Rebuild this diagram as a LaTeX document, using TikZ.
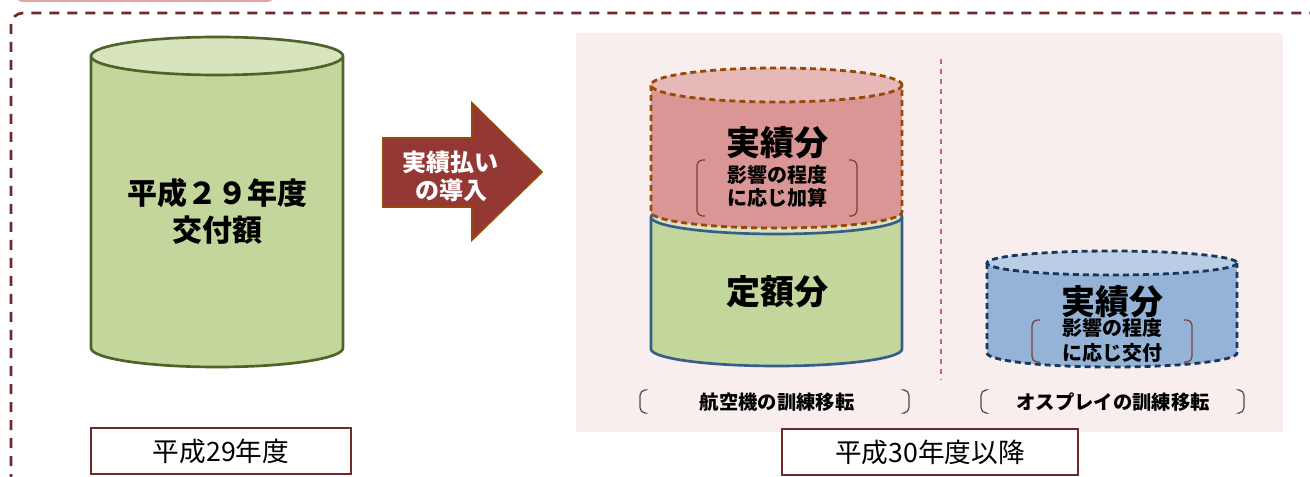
\documentclass[tikz,border=0pt]{standalone}
\usepackage{fontspec}
\setmainfont{Noto Sans CJK JP}
\definecolor{tabpink}{HTML}{E0A3A8}
\definecolor{outerred}{HTML}{6E2A2A}
\definecolor{panelpink}{HTML}{F9EEEE}
\definecolor{gbody}{HTML}{C3D69B}
\definecolor{gtop}{HTML}{D7E4BD}
\definecolor{gline}{HTML}{4F6228}
\definecolor{bline}{HTML}{385D8A}
\definecolor{rbody}{HTML}{D99694}
\definecolor{rtop}{HTML}{E6B9B8}
\definecolor{rline}{HTML}{984807}
\definecolor{bbody}{HTML}{95B3D7}
\definecolor{btop}{HTML}{B9CDE5}
\definecolor{bdline}{HTML}{17375E}
\definecolor{arrowfill}{HTML}{953735}
\definecolor{divline}{HTML}{C86A6A}
\definecolor{brk}{HTML}{7A3B3B}
\definecolor{brkgray}{HTML}{4A4A55}
\tikzset{
  bigtxt/.style={font=\bfseries\fontsize{25.5}{28}\selectfont, inner sep=0pt},
  midtxt/.style={font=\bfseries\fontsize{22.5}{25}\selectfont, inner sep=0pt},
  smalltxt/.style={font=\bfseries\fontsize{15}{17}\selectfont, inner sep=0pt},
  arrowtxt/.style={font=\bfseries\fontsize{18}{20}\selectfont, inner sep=0pt, text=white},
  labeltxt/.style={font=\bfseries\fontsize{14.5}{16}\selectfont, inner sep=0pt},
  yearbox/.style={draw=outerred, line width=1.6pt, fill=white, minimum height=34.5pt, inner sep=0pt, font=\fontsize{20}{22}\selectfont},
  cyl/.style={line width=2pt},
  cyldash/.style={line width=2.1pt, dash pattern=on 4.5pt off 3pt},
  bracketline/.style={line width=0.9pt, rounded corners=4pt},
}
\begin{document}
\begin{tikzpicture}[x=0.75pt,y=-0.75pt]
\useasboundingbox (0,0) rectangle (1310,477);
\clip (0,0) rectangle (1310,477);

% top pink tab (cropped)
\fill[tabpink, rounded corners=6pt] (15,-30) rectangle (275,2);

% outer dashed frame (cropped)
\draw[outerred, line width=2pt, dash pattern=on 7.5pt off 6pt, rounded corners=9pt] (11,520) -- (11,13) -- (1340,13);

% right panel
\fill[panelpink] (576,33) rectangle (1283,432);

% divider
\draw[divline, line width=1.2pt, dash pattern=on 4pt off 3.5pt] (941,59) -- (941,380);

% ---------- left cylinder ----------
\fill[gbody] (91,56) rectangle (343,348);
\fill[gbody] (217,348) ellipse[x radius=126, y radius=19];
\draw[gline, cyl] (91,56) -- (91,348) arc[start angle=180, end angle=0, x radius=126, y radius=19] -- (343,56);
\filldraw[fill=gtop, draw=gline, cyl] (217,56) ellipse[x radius=126, y radius=19];
\node[midtxt] (l1) at (217,193) {平成２９年度};
\node[midtxt] (l2) at (217,230) {交付額};

% ---------- arrow ----------
\filldraw[fill=arrowfill, draw=rline, line width=1.3pt]
  (383,138) -- (472,138) -- (472,103) -- (542,172) -- (472,240) -- (472,207) -- (383,207) -- cycle;
\node[arrowtxt] (a1) at (450,162) {実績払い};
\node[arrowtxt] (a2) at (451,190) {の導入};

% ---------- middle green cylinder ----------
\fill[gbody] (651,217) rectangle (902,349);
\fill[gbody] (776.5,349) ellipse[x radius=125.5, y radius=17];
\draw[bline, cyl] (651,217) -- (651,349) arc[start angle=180, end angle=0, x radius=125.5, y radius=17] -- (902,217);
\filldraw[fill=gtop, draw=bline, cyl] (776.5,217) ellipse[x radius=125.5, y radius=17];
\node[bigtxt] (g1) at (777,292) {定額分};

% ---------- middle red cylinder ----------
\fill[rbody] (651,85) rectangle (902,212);
\fill[rbody] (776.5,212) ellipse[x radius=125.5, y radius=16];
\draw[rline, cyldash] (651,85) -- (651,212) arc[start angle=180, end angle=0, x radius=125.5, y radius=16] -- (902,85);
\filldraw[fill=rtop, draw=rline, cyldash] (776.5,85) ellipse[x radius=125.5, y radius=17];
\node[bigtxt] (r1) at (777,143) {実績分};
\node[smalltxt] (r2) at (777,175) {影響の程度};
\node[smalltxt] (r3) at (777,198) {に応じ加算};
\draw[brk, bracketline] (705,160) -- (697,160) -- (697,216) -- (705,216);
\draw[brk, bracketline] (849,160) -- (857,160) -- (857,216) -- (849,216);

% ---------- blue cylinder ----------
\fill[bbody] (987,263) rectangle (1237,353);
\fill[bbody] (1112,353) ellipse[x radius=125, y radius=14];
\draw[bdline, cyldash] (987,263) -- (987,353) arc[start angle=180, end angle=0, x radius=125, y radius=14] -- (1237,263);
\filldraw[fill=btop, draw=bdline, cyldash] (1112,263) ellipse[x radius=125, y radius=12];
\node[bigtxt] (b1) at (1112,302) {実績分};
\node[smalltxt] (b2) at (1112,328) {影響の程度};
\node[smalltxt] (b3) at (1112,353) {に応じ交付};
\draw[brk, bracketline] (1040,320) -- (1032,320) -- (1032,362) -- (1040,362);
\draw[brk, bracketline] (1184,320) -- (1192,320) -- (1192,362) -- (1184,362);

% ---------- labels ----------
\node[labeltxt] (lab1) at (777,402) {航空機の訓練移転};
\draw[brkgray, bracketline] (644,390) -- (640,390) -- (640,413) -- (644,413);
\draw[brkgray, bracketline] (905,390) -- (909,390) -- (909,413) -- (905,413);
\node[labeltxt] (lab2) at (1113,402) {オスプレイの訓練移転};
\draw[brkgray, bracketline] (985,390) -- (981,390) -- (981,413) -- (985,413);
\draw[brkgray, bracketline] (1240,390) -- (1244,390) -- (1244,413) -- (1240,413);

% ---------- year boxes ----------
\node[yearbox, minimum width=195pt] (y1) at (221,451) {平成29年度};
\node[yearbox, minimum width=222pt] (y2) at (930,452) {平成30年度以降};
\end{tikzpicture}
\end{document}
